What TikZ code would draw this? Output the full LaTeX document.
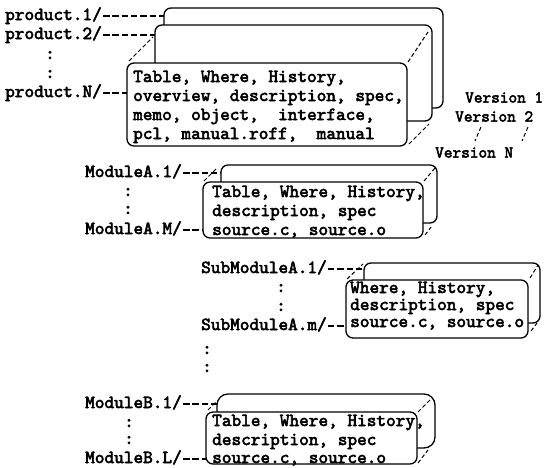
\documentclass[tikz,border=0pt]{standalone}
\usepackage{fontspec}
\newfontfamily\tw{lmmono10-regular.otf}[FakeBold=3]
\usetikzlibrary{calc}
\tikzset{
  box/.style={draw, line width=1.3pt, rounded corners=7pt, fill=white,
    inner sep=0pt, outer sep=0pt, anchor=north west},
  depth/.style={line width=1pt, dash pattern=on 4pt off 2.5pt},
  lead/.style={line width=1.1pt, dash pattern=on 6.5pt off 2.8pt},
  txt/.style={anchor=base west, inner sep=0pt, font=\tw\fontsize{18.4}{19}\selectfont},
  dots/.style={anchor=base, inner sep=0pt, font=\tw\fontsize{18.4}{19}\selectfont},
  ver/.style={anchor=base west, inner sep=0pt, font=\tw\fontsize{16.5}{18}\selectfont},
}
\newcommand\bx[5]{\node[box, minimum width=#4pt, minimum height=#5pt] (#1) at (#2,#3) {};}
\begin{document}
\begin{tikzpicture}[x=1pt,y=-1pt]
\useasboundingbox (0,0) rectangle (557,467);

% ---------- product versions ----------
\bx{pb1}{164}{8}{279}{100}
\bx{pb2}{155}{25}{277}{96}
\bx{pb3}{127}{63}{280}{83}
\draw[depth] ($(pb3.north west)+(2,-2)$) -- ($(pb3.north west)+(26,-26)$);
\draw[depth] ($(pb3.north east)+(1,-1)$) -- ($(pb3.north east)+(21,-31)$);
\draw[depth] ($(pb3.south east)+(2,-2)$) -- ($(pb3.south east)+(22,-22)$);

\node[txt] (pt1) at (133,82)  {Table, Where, History,};
\node[txt] (pt2) at (133,101) {overview, description, spec,};
\node[txt] (pt3) at (133,120) {memo, object,\ \ interface,};
\node[txt] (pt4) at (133,139) {pcl, manual.roff,\ \ manual};

\node[txt] (p1) at (5,20) {product.1/};
\node[txt] (p2) at (5,39) {product.2/};
\node[dots] (pc1) at (50,59) {:};
\node[dots] (pc2) at (50,78) {:};
\node[txt] (pN) at (5,97) {product.N/};
\coordinate (p1e) at ($(p1.base east)+(1,-4)$);
\coordinate (p2e) at ($(p2.base east)+(1,-4)$);
\coordinate (pNe) at ($(pN.base east)+(1,-4)$);
\draw[lead] (p1e) -- (p1e -| pb1.west);
\draw[lead] (p2e) -- (p2e -| pb2.west);
\draw[lead] (pNe) -- (pNe -| pb3.west);

\node[ver] (v1) at (465,102.5) {Version 1};
\node[ver] (v2) at (455,121.5) {Version 2};
\node[ver] (vN) at (435,157.5) {Version N};
\coordinate (va) at (481,127);
\coordinate (vb) at (475,141);
\coordinate (vc) at (528,127);
\coordinate (vd) at (522,141);
\draw[depth] (va) -- (vb);
\draw[depth] (vc) -- (vd);

% ---------- module A ----------
\bx{ma1}{221}{165}{216}{58}
\bx{ma2}{203}{182}{220}{56}
\draw[depth] ($(ma2.north west)+(1,-1)$) -- ($(ma2.north west)+(13,-13)$);
\draw[depth] ($(ma2.north east)+(1,-1)$) -- ($(ma2.north east)+(12,-14)$);
\draw[depth] ($(ma2.south east)+(2,-3)$) -- ($(ma2.south east)+(8,-11)$);

\node[txt] (at1) at (212,197) {Table, Where, History,};
\node[txt] (at2) at (212,216) {description, spec};
\node[txt] (at3) at (212,235) {source.c, source.o};

\node[txt] (a1) at (85,177) {ModuleA.1/};
\node[dots] (ac1) at (128,196) {:};
\node[dots] (ac2) at (128,214) {:};
\node[txt] (aM) at (85,234) {ModuleA.M/};
\coordinate (a1e) at ($(a1.base east)+(1,-4)$);
\coordinate (aMe) at ($(aM.base east)+(1,-4)$);
\draw[lead] (a1e) -- (a1e -| ma1.west);
\draw[lead] (aMe) -- (aMe -| ma2.west);

% ---------- submodule A ----------
\bx{sa1}{364}{263}{176}{60}
\bx{sa2}{346}{280}{182}{58}
\draw[depth] ($(sa2.north west)+(1,-1)$) -- ($(sa2.north west)+(17,-16)$);
\draw[depth] ($(sa2.north east)+(2,-2)$) -- ($(sa2.north east)+(10,-15)$);
\draw[depth] ($(sa2.south east)+(3,-7)$) -- ($(sa2.south east)+(9,-15)$);

\node[txt] (st1) at (350,293) {Where, History,};
\node[txt] (st2) at (350,310) {description, spec};
\node[txt] (st3) at (350,327) {source.c, source.o};

\node[txt] (s1) at (201,273) {SubModuleA.1/};
\node[dots] (sc1) at (281,292) {:};
\node[dots] (sc2) at (281,311) {:};
\node[txt] (sm) at (201,330) {SubModuleA.m/};
\node[dots] (sc3) at (207,354) {:};
\node[dots] (sc4) at (207,372) {:};
\coordinate (s1e) at ($(s1.base east)+(1,-4)$);
\coordinate (sme) at ($(sm.base east)+(1,-4)$);
\draw[lead] (s1e) -- (s1e -| sa1.west);
\draw[lead] (sme) -- (sme -| sa2.west);

% ---------- module B ----------
\node[box, rounded corners=11pt, minimum width=218pt, minimum height=54pt] (mb1) at (217,394) {};
\bx{mb2}{206}{412}{211}{52}
\draw[depth] ($(mb2.north west)+(2,-2)$) -- ($(mb2.north west)+(11,-11)$);
\draw[depth] ($(mb2.north east)+(1,0)$) -- ($(mb2.north east)+(15,-14)$);
\draw[depth] ($(mb2.south east)+(1,-1)$) -- ($(mb2.south east)+(11,-14)$);

\node[txt] (bt1) at (212,426) {Table, Where, History,};
\node[txt] (bt2) at (212,445) {description, spec};
\node[txt] (bt3) at (212,463) {source.c, source.o};

\node[txt] (b1) at (85,408) {ModuleB.1/};
\node[dots] (bc1) at (129,427) {:};
\node[dots] (bc2) at (129,444) {:};
\node[txt] (bL) at (85,463) {ModuleB.L/};
\coordinate (b1e) at ($(b1.base east)+(1,-4)$);
\coordinate (bLe) at ($(bL.base east)+(1,-4)$);
\draw[lead] (b1e) -- (b1e -| mb1.west);
\draw[lead] (bLe) -- (bLe -| mb2.west);
\end{tikzpicture}
\end{document}
